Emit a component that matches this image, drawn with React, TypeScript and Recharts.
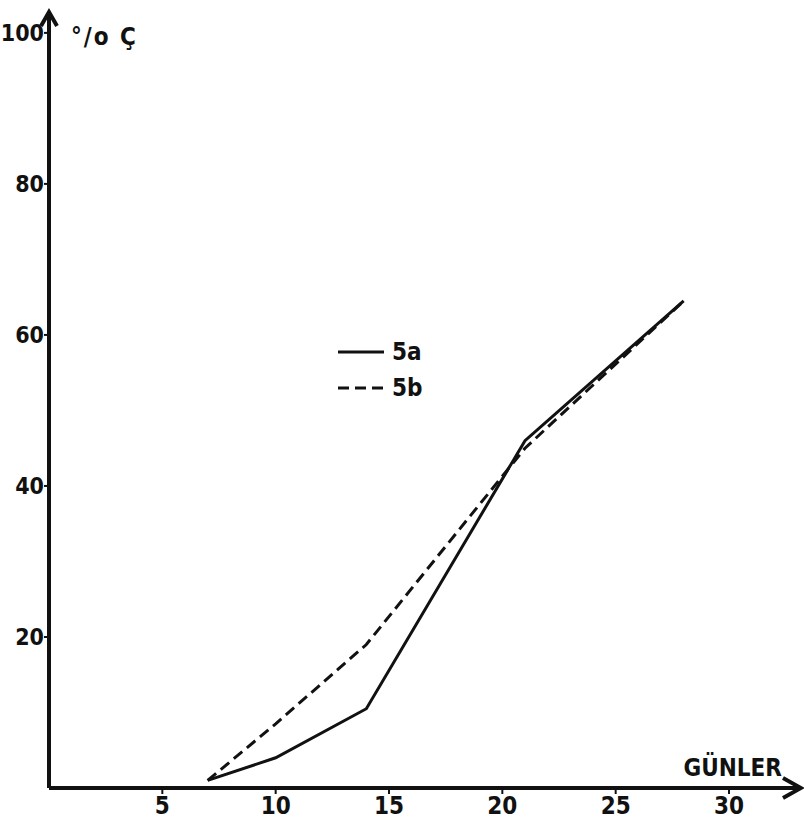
import { LineChart, Line, XAxis, YAxis, ReferenceDot } from 'recharts';

const days = [7, 10, 14, 21, 28];
const series5a = [1, 4, 10.5, 46, 64.5];
const series5b = [1, 8.5, 19, 45, 64.5];
const xTicks = [5, 10, 15, 20, 25, 30];
const yTicks = [20, 40, 60, 80, 100];
const legendNames = ['5a', '5b'];

const data = days.map((d, i) => ({ day: d, a: series5a[i], b: series5b[i] }));

const INK = '#111';
const FONT = '"DejaVu Sans Condensed", "Liberation Sans Narrow", sans-serif';
const DASH = '11 6';

function LegendBox() {
  return (
    <svg width={140} height={70}>
      {legendNames.map((name, i) => (
        <g key={name} transform={`translate(0, ${i * 36})`}>
          <line x1={2} x2={48} y1={14} y2={14} stroke={INK} strokeWidth={3} strokeDasharray={i === 1 ? DASH : undefined} />
          <text x={56} y={22} fontFamily={FONT} fontWeight="bold" fontSize={24} fill={INK}>
            {name}
          </text>
        </g>
      ))}
    </svg>
  );
}

export default function App() {
  return (
    <div style={{ position: 'absolute', left: 0, top: 0, width: 804, height: 830, background: '#fff' }}>
      <LineChart width={804} height={830} data={data} margin={{ top: 14, right: 7, left: 0, bottom: 12 }}>
        <XAxis
          type="number"
          dataKey="day"
          domain={[0, 33]}
          ticks={xTicks}
          allowDataOverflow
          height={30}
          axisLine={{ stroke: INK, strokeWidth: 4 }}
          tickLine={{ stroke: INK, strokeWidth: 2 }}
          tickSize={6}
          tickMargin={3}
          tick={{ fill: INK, fontSize: 24, fontWeight: 'bold', fontFamily: FONT }}
          label={{
            content: ({ viewBox }: any) => (
              <text
                x={viewBox.x + viewBox.width - 15}
                y={viewBox.y - 12}
                textAnchor="end"
                fontFamily={FONT}
                fontWeight="bold"
                fontSize={24}
                fill={INK}
              >
                GÜNLER
              </text>
            )
          }}
        />
        <YAxis
          type="number"
          domain={[0, 102.5]}
          ticks={yTicks}
          allowDataOverflow
          width={49}
          axisLine={{ stroke: INK, strokeWidth: 4 }}
          tickLine={{ stroke: INK, strokeWidth: 2 }}
          tickSize={5}
          tickMargin={0}
          tick={{ fill: INK, fontSize: 23, fontWeight: 'bold', fontFamily: FONT }}
          label={{
            content: ({ viewBox }: any) => (
              <text
                x={viewBox.x + viewBox.width + 22}
                y={viewBox.y + 31}
                fontFamily={FONT}
                fontWeight="bold"
                fontSize={24}
                letterSpacing={2}
                fill={INK}
              >
                °/o Ç
              </text>
            )
          }}
        />
        <ReferenceDot
          x={33}
          y={0}
          r={0}
          shape={({ cx, cy }: any) => (
            <path d={`M${cx - 14},${cy - 10} L${cx + 4},${cy} L${cx - 14},${cy + 10}`} fill="none" stroke={INK} strokeWidth={4} />
          )}
        />
        <ReferenceDot
          x={0}
          y={102.5}
          r={0}
          shape={({ cx, cy }: any) => (
            <path d={`M${cx - 8},${cy + 12} L${cx},${cy - 2} L${cx + 8},${cy + 12}`} fill="none" stroke={INK} strokeWidth={4} />
          )}
        />
        <Line type="linear" dataKey="a" name="5a" stroke={INK} strokeWidth={3} dot={false} isAnimationActive={false} />
        <Line
          type="linear"
          dataKey="b"
          name="5b"
          stroke={INK}
          strokeWidth={3}
          strokeDasharray={DASH}
          dot={false}
          isAnimationActive={false}
        />
      </LineChart>
      <div style={{ position: 'absolute', left: 336, top: 338 }}>
        <LegendBox />
      </div>
    </div>
  );
}
